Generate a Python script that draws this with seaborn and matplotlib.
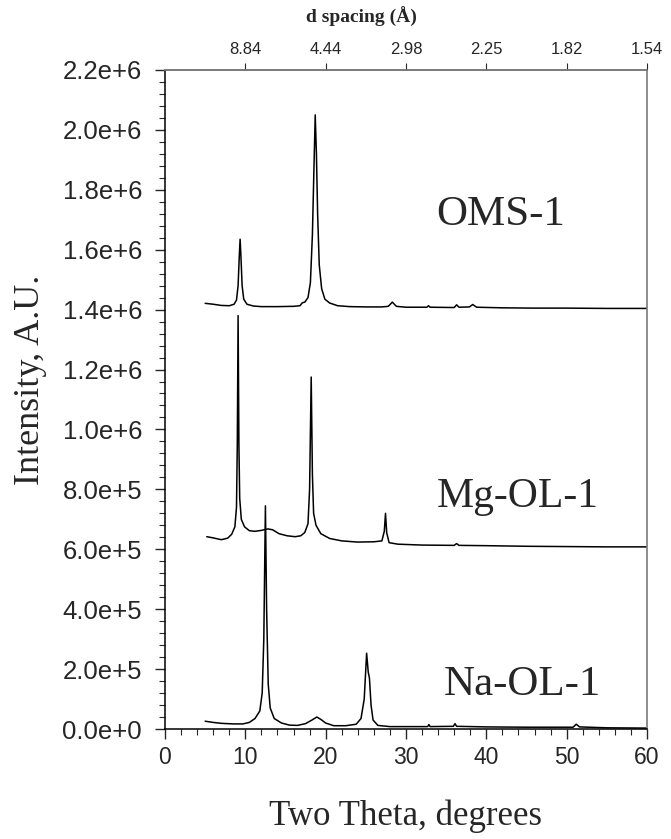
import matplotlib
matplotlib.use("Agg")
import matplotlib.pyplot as plt
import seaborn as sns
import pandas as pd
from matplotlib.ticker import MultipleLocator, FuncFormatter

# XRD traces (two theta in degrees, intensity in millions)
oms_two_theta = [5.0, 6.0, 7.0, 8.0, 8.6, 8.9, 9.1, 9.25, 9.35, 9.45, 9.6, 9.8, 10.2, 11.0, 12.0,
                 14.0, 16.0, 16.8, 17.1, 17.4, 17.8, 18.1, 18.35, 18.55, 18.7, 18.85, 19.0, 19.2,
                 19.5, 19.9, 20.5, 21.5, 23.0, 25.0, 27.0, 27.8, 28.3, 28.8, 30.0, 32.6, 32.8, 33.0,
                 36.0, 36.3, 36.6, 37.9, 38.3, 38.8, 42.0, 46.0, 50.0, 55.0, 60.0]
oms_intensity = [1.421, 1.418, 1.414, 1.413, 1.418, 1.432, 1.48, 1.58, 1.635, 1.58, 1.48, 1.435,
                 1.418, 1.412, 1.410, 1.410, 1.411, 1.413, 1.423, 1.425, 1.44, 1.49, 1.65, 1.88,
                 2.05, 1.92, 1.72, 1.55, 1.47, 1.435, 1.422, 1.413, 1.410, 1.409, 1.409, 1.411,
                 1.425, 1.411, 1.408, 1.408, 1.413, 1.408, 1.407, 1.416, 1.408, 1.409, 1.417,
                 1.408, 1.406, 1.405, 1.405, 1.404, 1.404]

mg_two_theta = [5.2, 6.0, 7.0, 7.8, 8.3, 8.7, 8.9, 9.0, 9.1, 9.2, 9.3, 9.5, 9.9, 10.5, 11.2, 12.0,
                12.8, 13.4, 14.2, 15.2, 16.2, 16.9, 17.4, 17.8, 18.0, 18.2, 18.35, 18.5, 18.8,
                19.4, 20.5, 22.0, 24.0, 26.0, 27.0, 27.3, 27.45, 27.6, 27.9, 29.0, 32.0, 36.0,
                36.3, 36.6, 40.0, 45.0, 50.0, 55.0, 60.0]
mg_intensity = [0.642, 0.638, 0.632, 0.637, 0.650, 0.675, 0.74, 0.95, 1.38, 0.95, 0.77, 0.70,
                0.675, 0.662, 0.660, 0.663, 0.668, 0.665, 0.652, 0.645, 0.642, 0.645, 0.656,
                0.685, 0.80, 1.175, 0.85, 0.72, 0.68, 0.652, 0.636, 0.628, 0.624, 0.625, 0.628,
                0.66, 0.72, 0.655, 0.622, 0.617, 0.614, 0.613, 0.619, 0.613, 0.612, 0.610,
                0.609, 0.608, 0.608]

na_two_theta = [5.0, 6.0, 7.0, 8.5, 9.7, 10.5, 11.2, 11.8, 12.1, 12.3, 12.5, 12.65, 12.85, 13.1,
                13.6, 14.5, 15.5, 16.5, 17.5, 18.3, 18.9, 19.4, 20.0, 21.0, 22.5, 23.8, 24.4,
                24.8, 25.1, 25.3, 25.45, 25.65, 25.9, 26.5, 28.0, 32.7, 32.85, 33.0, 35.9, 36.1,
                36.3, 40.0, 45.0, 50.8, 51.2, 51.6, 55.0, 60.0]
na_intensity = [0.026, 0.022, 0.019, 0.017, 0.017, 0.022, 0.035, 0.06, 0.12, 0.30, 0.745, 0.40,
                0.15, 0.07, 0.035, 0.02, 0.013, 0.012, 0.018, 0.03, 0.04, 0.032, 0.02, 0.011,
                0.011, 0.016, 0.035, 0.10, 0.253, 0.19, 0.17, 0.08, 0.03, 0.012, 0.008, 0.008,
                0.015, 0.008, 0.009, 0.018, 0.009, 0.007, 0.006, 0.006, 0.016, 0.007, 0.004,
                0.003]

sample_names = ["OMS-1", "Mg-OL-1", "Na-OL-1"]
label_pos = [(33.8, 1.716), (33.8, 0.774), (34.7, 0.147)]

d_tick_pos = [10, 20, 30, 40, 50, 60]
d_tick_labels = ["8.84", "4.44", "2.98", "2.25", "1.82", "1.54"]

frames = []
for name, tt, inten in [("OMS-1", oms_two_theta, oms_intensity),
                        ("Mg-OL-1", mg_two_theta, mg_intensity),
                        ("Na-OL-1", na_two_theta, na_intensity)]:
    frames.append(pd.DataFrame({"two_theta": tt,
                                "intensity": [v * 1e6 for v in inten],
                                "sample": name}))
df = pd.concat(frames, ignore_index=True)

sns.set_style("ticks")
plt.rcParams['font.family'] = ['Liberation Sans', 'DejaVu Sans']
serif = ["Liberation Serif", "DejaVu Serif"]

fig = plt.figure(figsize=(6.71, 8.39), dpi=100)
ax = fig.add_axes([0.2459, 0.1311, 0.7183, 0.7855])

for name in sample_names:
    sub = df[df["sample"] == name]
    sns.lineplot(data=sub, x="two_theta", y="intensity", ax=ax, color="black",
                 linewidth=1.1, sort=False, estimator=None, legend=False)

ax.set_xlim(0, 60)
ax.set_ylim(0, 2.2e6)
ax.xaxis.set_major_locator(MultipleLocator(10))
ax.xaxis.set_minor_locator(MultipleLocator(2))
ax.yaxis.set_major_locator(MultipleLocator(2e5))
ax.yaxis.set_minor_locator(MultipleLocator(4e4))


def sci_fmt(v, pos):
    mant, exp = f"{v:.1e}".split("e")
    return f"{mant}e{int(exp):+d}"


ax.yaxis.set_major_formatter(FuncFormatter(sci_fmt))
ax.tick_params(axis="both", which="major", direction="out", length=7, width=1)
ax.tick_params(axis="x", which="major", labelsize=16.5, pad=5)
ax.tick_params(axis="y", which="major", labelsize=18.5, pad=9.5)
ax.tick_params(axis="both", which="minor", direction="out", length=4, width=0.8)

for side in ["left", "bottom"]:
    ax.spines[side].set_color("black")
    ax.spines[side].set_linewidth(1.1)
for side in ["top", "right"]:
    ax.spines[side].set_color("#7a7a7a")
    ax.spines[side].set_linewidth(1.2)

ax.set_xlabel("Two Theta, degrees", family=serif, fontsize=25, labelpad=22)
ax.set_ylabel("Intensity, A.U.", family=serif, fontsize=26)
ax.yaxis.set_label_coords(-0.245, 0.53)

for name, (lx, ly) in zip(sample_names, label_pos):
    size = 30 if name == "Mg-OL-1" else 31
    ax.text(lx, ly * 1e6, name, family=serif, fontsize=size, ha="left", va="center")

# top axis with d spacing
ax2 = ax.twiny()
ax2.set_xlim(0, 60)
ax2.set_xticks(d_tick_pos)
ax2.set_xticklabels(d_tick_labels)
ax2.tick_params(axis="x", direction="out", length=5, width=0.8, labelsize=12, pad=4)
for side in ["left", "bottom", "right"]:
    ax2.spines[side].set_visible(False)
ax2.spines["top"].set_color("#7a7a7a")
ax2.spines["top"].set_linewidth(1.2)
ax2.set_xlabel("d spacing (Å)", family=serif, fontsize=14, fontweight="bold")
ax2.xaxis.set_label_coords(24.4 / 60, 1.072)

fig.savefig("out.png", dpi=100)
